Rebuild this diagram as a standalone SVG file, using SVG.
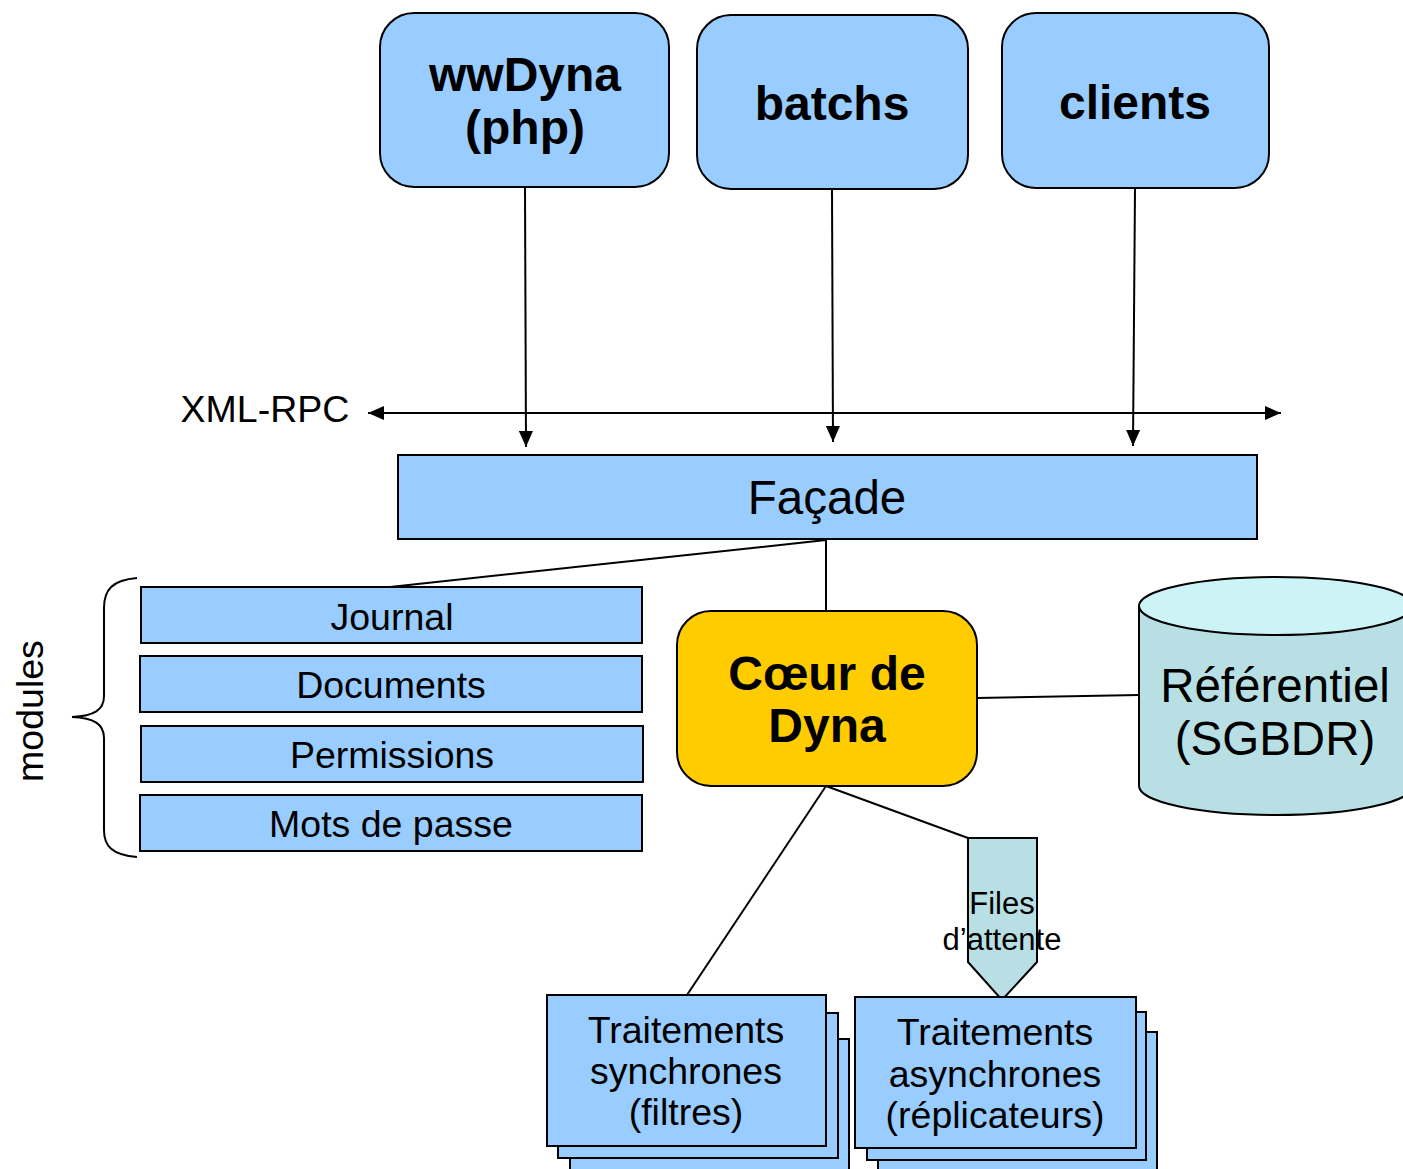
<svg xmlns="http://www.w3.org/2000/svg" width="1403" height="1169" viewBox="0 0 1403 1169">
  <style>
    .box { fill: #99ccff; stroke: #000; stroke-width: 2; }
    .core { fill: #ffcc00; stroke: #000; stroke-width: 2; }
    .db { fill: #b8dfe3; stroke: #000; stroke-width: 2; }
    .dbtop { fill: #ccf4f6; stroke: #000; stroke-width: 2; }
    .link { fill: none; stroke: #000; stroke-width: 2; }
    .t { font-family: "Liberation Sans", Arial, sans-serif; fill: #000; text-anchor: middle; }
    .b { font-weight: bold; font-size: 48px; }
    .m { font-size: 37.5px; }
    .big { font-size: 47.5px; }
    .q { font-size: 31px; }
  </style>
  <defs>
    <marker id="arrowL" viewBox="0 0 16 14" refX="16" refY="7" markerWidth="16" markerHeight="14" markerUnits="userSpaceOnUse" orient="auto-start-reverse">
      <path d="M0,0 L16,7 L0,14 z" fill="#000"/>
    </marker>
  </defs>

  <!-- connectors -->
  <g id="connectors">
    <line class="link" x1="368" y1="413" x2="1281" y2="413" marker-start="url(#arrowL)" marker-end="url(#arrowL)"/>
    <line class="link" x1="525" y1="187" x2="526" y2="447" marker-end="url(#arrowL)"/>
    <line class="link" x1="832" y1="189" x2="833" y2="442" marker-end="url(#arrowL)"/>
    <line class="link" x1="1135" y1="188" x2="1133" y2="446" marker-end="url(#arrowL)"/>
    <line class="link" x1="826" y1="540" x2="390" y2="587"/>
    <line class="link" x1="826" y1="540" x2="826" y2="611"/>
    <line class="link" x1="977" y1="698" x2="1139" y2="695"/>
    <line class="link" x1="826" y1="786" x2="687" y2="995"/>
    <line class="link" x1="826" y1="786" x2="968" y2="838"/>
  </g>

  <!-- client nodes -->
  <g id="wwdyna">
    <rect class="box" x="380" y="13" width="289" height="174" rx="34" ry="34"/>
    <text class="t b" x="525" y="91">wwDyna</text>
    <text class="t b" x="525" y="144">(php)</text>
  </g>
  <g id="batchs">
    <rect class="box" x="697" y="15" width="271" height="174" rx="34" ry="34"/>
    <text class="t b" x="832" y="120">batchs</text>
  </g>
  <g id="clients">
    <rect class="box" x="1002" y="13" width="267" height="175" rx="34" ry="34"/>
    <text class="t b" x="1135" y="119">clients</text>
  </g>

  <text id="xmlrpc" class="t m" x="265" y="422">XML-RPC</text>

  <g id="facade">
    <rect class="box" x="398" y="455" width="859" height="84"/>
    <text class="t big" x="827" y="514">Façade</text>
  </g>

  <!-- modules -->
  <g id="modules-brace">
    <path class="link" d="M137,578 C112,580 104,590 104,608 L104,696 C104,710 94,716 72,717 C94,718 104,724 104,738 L104,830 C104,846 112,855 137,857"/>
    <text class="t m" transform="translate(43,711) rotate(-90)" x="0" y="0">modules</text>
  </g>
  <g id="journal">
    <rect class="box" x="141" y="587" width="501" height="56"/>
    <text class="t m" x="392" y="630">Journal</text>
  </g>
  <g id="documents">
    <rect class="box" x="140" y="656" width="502" height="56"/>
    <text class="t m" x="391" y="698">Documents</text>
  </g>
  <g id="permissions">
    <rect class="box" x="141" y="726" width="502" height="56"/>
    <text class="t m" x="392" y="768">Permissions</text>
  </g>
  <g id="mots-de-passe">
    <rect class="box" x="140" y="795" width="502" height="56"/>
    <text class="t m" x="391" y="837">Mots de passe</text>
  </g>

  <g id="coeur">
    <rect class="core" x="677" y="611" width="300" height="175" rx="34" ry="34"/>
    <text class="t b" x="827" y="690">Cœur de</text>
    <text class="t b" x="827" y="742">Dyna</text>
  </g>

  <g id="referentiel">
    <path class="db" d="M1139,606 L1139,786 A137,29 0 0 0 1413,786 L1413,606 Z"/>
    <ellipse class="dbtop" cx="1276" cy="606" rx="137" ry="29"/>
    <text class="t big" x="1275" y="702">Référentiel</text>
    <text class="t big" x="1275" y="755">(SGBDR)</text>
  </g>

  <g id="files-attente">
    <path class="db" d="M968,838 L1037,838 L1037,962 L1002,1000 L968,962 Z"/>
    <text class="t q" x="1002" y="914">Files</text>
    <text class="t q" x="1002" y="950">d’attente</text>
  </g>

  <g id="traitements-synchrones">
    <rect class="box" x="570" y="1039" width="279" height="140"/>
    <rect class="box" x="558" y="1013" width="280" height="145"/>
    <rect class="box" x="547" y="995" width="279" height="151"/>
    <text class="t m" x="686" y="1043">Traitements</text>
    <text class="t m" x="686" y="1084">synchrones</text>
    <text class="t m" x="686" y="1125">(filtres)</text>
  </g>

  <g id="traitements-asynchrones">
    <rect class="box" x="878" y="1032" width="279" height="150"/>
    <rect class="box" x="867" y="1012" width="279" height="148"/>
    <rect class="box" x="855" y="997" width="281" height="151"/>
    <text class="t m" x="995" y="1045">Traitements</text>
    <text class="t m" x="995" y="1087">asynchrones</text>
    <text class="t m" x="995" y="1128">(réplicateurs)</text>
  </g>
</svg>
